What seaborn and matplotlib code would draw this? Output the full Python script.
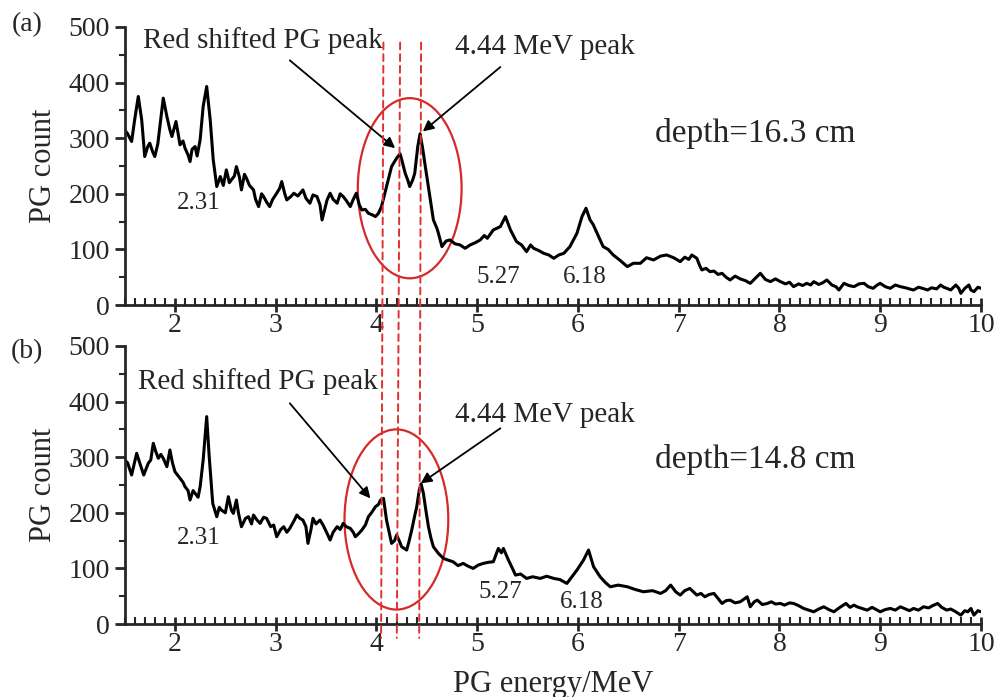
import matplotlib
matplotlib.use("Agg")
import matplotlib.pyplot as plt
import seaborn as sns
from matplotlib.patches import Ellipse, ConnectionPatch
from matplotlib.ticker import MultipleLocator

# spectrum (a), depth = 16.3 cm
energy_a = [1.50, 1.53, 1.57, 1.60, 1.636, 1.67, 1.70, 1.73, 1.75, 1.78, 1.80, 1.83, 1.85, 1.884, 1.92,
            1.95, 1.97, 2.01, 2.03, 2.05, 2.08, 2.10, 2.13, 2.15, 2.17, 2.20, 2.22, 2.25, 2.28, 2.315,
            2.35, 2.38, 2.415, 2.45, 2.48, 2.51, 2.54, 2.56, 2.59, 2.61, 2.64, 2.66, 2.69, 2.71, 2.74,
            2.78, 2.80, 2.83, 2.86, 2.88, 2.91, 2.94, 2.97, 3.01, 3.04, 3.06, 3.09, 3.11, 3.15, 3.18,
            3.22, 3.27, 3.30, 3.34, 3.37, 3.41, 3.44, 3.46, 3.49, 3.51, 3.54, 3.57, 3.61, 3.64, 3.67,
            3.70, 3.74, 3.77, 3.80, 3.83, 3.855, 3.89, 3.92, 3.96, 3.99, 4.02, 4.05, 4.10, 4.15, 4.20,
            4.235, 4.26, 4.285, 4.31, 4.33, 4.36, 4.38, 4.41, 4.433, 4.46, 4.48, 4.53, 4.565, 4.60, 4.615,
            4.65, 4.69, 4.73, 4.78, 4.83, 4.88, 4.93, 4.98, 5.03, 5.07, 5.10, 5.16, 5.23, 5.28, 5.33,
            5.39, 5.44, 5.49, 5.53, 5.56, 5.61, 5.66, 5.71, 5.76, 5.81, 5.86, 5.92, 5.99, 6.04, 6.08,
            6.12, 6.15, 6.19, 6.25, 6.30, 6.35, 6.42, 6.49, 6.55, 6.62, 6.68, 6.75, 6.82, 6.88, 6.95,
            7.015, 7.06, 7.10, 7.13, 7.18, 7.21, 7.23, 7.27, 7.31, 7.35, 7.39, 7.43, 7.47, 7.51, 7.56,
            7.61, 7.66, 7.71, 7.76, 7.81, 7.86, 7.91, 7.96, 8.01, 8.06, 8.10, 8.14, 8.19, 8.23, 8.27,
            8.31, 8.34, 8.39, 8.43, 8.47, 8.52, 8.56, 8.59, 8.64, 8.69, 8.74, 8.79, 8.84, 8.88, 8.93,
            8.97, 9.00, 9.05, 9.10, 9.15, 9.20, 9.25, 9.29, 9.33, 9.38, 9.42, 9.47, 9.51, 9.56, 9.60,
            9.63, 9.66, 9.70, 9.75, 9.78, 9.80, 9.84, 9.88, 9.90, 9.93, 9.97, 10.00]
count_a = [315, 308, 294, 333, 375, 333, 267, 285, 291, 275, 267, 290, 321, 372, 339,
           315, 303, 330, 310, 288, 295, 282, 270, 258, 280, 285, 268, 297, 357, 393,
           333, 261, 213, 231, 215, 243, 220, 225, 232, 249, 230, 207, 235, 228, 215,
           207, 190, 177, 200, 195, 185, 177, 190, 201, 210, 222, 200, 189, 195, 201,
           196, 207, 192, 183, 198, 195, 180, 153, 175, 189, 201, 190, 183, 200, 195,
           188, 177, 190, 201, 180, 171, 172, 165, 162, 159, 165, 177, 213, 249, 264,
           272, 255, 237, 225, 213, 225, 237, 285, 308, 280, 255, 195, 153, 138, 129,
           105, 115, 117, 110, 108, 102, 108, 112, 117, 125, 120, 135, 141, 159, 135,
           114, 108, 96, 108, 102, 98, 93, 90, 84, 90, 93, 105, 129, 159, 174,
           153, 145, 129, 105, 100, 90, 80, 69, 75, 75, 85, 81, 88, 90, 85,
           78, 86, 82, 90, 84, 70, 63, 66, 60, 61, 55, 57, 50, 45, 52,
           47, 44, 39, 48, 57, 46, 42, 47, 42, 38, 41, 33, 38, 35, 39,
           36, 42, 37, 40, 45, 36, 33, 27, 39, 35, 33, 38, 39, 33, 30,
           36, 39, 33, 30, 36, 33, 31, 29, 27, 32, 30, 27, 31, 29, 36,
           32, 30, 27, 36, 30, 21, 30, 36, 27, 24, 32, 30]

# spectrum (b), depth = 14.8 cm
energy_b = [1.50, 1.53, 1.57, 1.62, 1.65, 1.69, 1.735, 1.76, 1.785, 1.81, 1.835, 1.86, 1.884, 1.92, 1.95,
            1.975, 2.00, 2.05, 2.08, 2.10, 2.13, 2.15, 2.18, 2.20, 2.23, 2.25, 2.28, 2.315, 2.34, 2.375,
            2.415, 2.44, 2.46, 2.50, 2.53, 2.56, 2.58, 2.61, 2.63, 2.66, 2.70, 2.73, 2.76, 2.78, 2.81,
            2.845, 2.88, 2.91, 2.95, 2.98, 3.01, 3.05, 3.08, 3.11, 3.14, 3.18, 3.21, 3.24, 3.27, 3.30,
            3.32, 3.35, 3.37, 3.40, 3.44, 3.47, 3.51, 3.54, 3.57, 3.61, 3.64, 3.67, 3.70, 3.74, 3.77,
            3.79, 3.82, 3.855, 3.89, 3.92, 3.95, 3.99, 4.02, 4.04, 4.07, 4.10, 4.15, 4.18, 4.20, 4.23,
            4.25, 4.30, 4.325, 4.35, 4.38, 4.40, 4.425, 4.443, 4.466, 4.49, 4.516, 4.54, 4.565, 4.615, 4.665,
            4.71, 4.76, 4.81, 4.86, 4.91, 4.96, 5.01, 5.06, 5.11, 5.16, 5.21, 5.24, 5.26, 5.31, 5.35,
            5.38, 5.43, 5.49, 5.55, 5.625, 5.69, 5.76, 5.82, 5.89, 5.94, 5.99, 6.055, 6.105, 6.155, 6.22,
            6.27, 6.32, 6.40, 6.49, 6.57, 6.65, 6.74, 6.82, 6.87, 6.92, 6.97,
            7.015, 7.06, 7.11, 7.15, 7.18, 7.22, 7.26, 7.30, 7.35, 7.39, 7.43, 7.47, 7.51, 7.56, 7.61,
            7.65, 7.68, 7.71, 7.75, 7.78, 7.83, 7.88, 7.92, 7.96, 8.01, 8.05, 8.10, 8.14, 8.19, 8.24,
            8.29, 8.34, 8.39, 8.44, 8.49, 8.54, 8.60, 8.66, 8.70, 8.74, 8.77, 8.82, 8.87, 8.92, 8.96,
            9.00, 9.05, 9.10, 9.15, 9.20, 9.25, 9.29, 9.33, 9.38, 9.43, 9.48, 9.52, 9.57, 9.61, 9.66,
            9.70, 9.75, 9.80, 9.84, 9.87, 9.90, 9.93, 9.97, 10.00]
count_b = [295, 290, 268, 307, 290, 268, 289, 295, 325, 310, 298, 305, 298, 283, 313,
           290, 274, 262, 255, 247, 240, 223, 240, 235, 228, 247, 295, 373, 301, 217,
           193, 210, 205, 200, 229, 205, 199, 223, 200, 175, 190, 193, 180, 196, 188,
           181, 192, 190, 175, 178, 157, 170, 175, 165, 172, 185, 196, 190, 187, 175,
           145, 170, 190, 180, 187, 178, 163, 151, 165, 175, 170, 181, 175, 172, 165,
           157, 162, 169, 178, 193, 200, 211, 215, 223, 226, 187, 145, 150, 160, 148,
           139, 133, 150, 169, 195, 211, 241, 252, 235, 205, 175, 155, 139, 127, 118,
           115, 112, 105, 109, 104, 100, 106, 109, 111, 112, 136, 128, 136, 115, 100,
           88, 90, 82, 85, 82, 86, 82, 80, 73, 85, 97, 115, 133, 103, 85,
           75, 67, 70, 67, 62, 58, 60, 55, 60, 70, 58,
           52, 60, 64, 57, 52, 55, 49, 53, 55, 46, 37, 42, 43, 38, 40,
           45, 49, 31, 40, 43, 35, 37, 40, 36, 37, 34, 38, 37, 33, 28,
           25, 22, 27, 31, 26, 22, 30, 37, 30, 34, 31, 28, 25, 30, 26,
           22, 26, 28, 25, 31, 27, 24, 28, 25, 31, 29, 33, 37, 30, 25,
           27, 22, 16, 24, 22, 28, 16, 24, 22]

assert len(energy_a) == len(count_a) and len(energy_b) == len(count_b)

# red dashed guide lines (energy at top of panel a, energy at bottom of panel b)
guide_top = [4.069, 4.235, 4.443]
guide_bottom = [4.046, 4.202, 4.424]

sns.set_style("ticks")
plt.rcParams["font.family"] = ["Liberation Serif", "DejaVu Serif"]
plt.rcParams["axes.linewidth"] = 2

fig = plt.figure(figsize=(9.95, 6.97), dpi=100)
ax_a = fig.add_axes([0.1252, 0.5624, 0.8607, 0.3989])
ax_b = fig.add_axes([0.1252, 0.1047, 0.8607, 0.3989])

panels = [
    (ax_a, energy_a, count_a, "depth=16.3 cm", 309, (4.33, 210),
     [(2.24, 183), (5.21, 50), (6.07, 50)], (1.68, 476), (3.14, 440), (4.185, 282),
     (4.78, 464), (5.23, 428), (4.46, 312)),
    (ax_b, energy_b, count_b, "depth=14.8 cm", 295, (4.198, 188),
     [(2.24, 155), (5.23, 57), (6.04, 40)], (1.63, 436), (3.14, 397), (3.94, 226),
     (4.78, 376), (5.23, 352), (4.44, 253)),
]

for (ax, en, ct, depth, depth_y, ell_c, peak_pos, red_txt, red_from, red_to,
     mev_txt, mev_from, mev_to) in panels:
    sns.lineplot(x=en, y=ct, ax=ax, color="black", lw=2.2)
    ax.set_xlim(1.5, 10)
    ax.set_ylim(0, 500)
    ax.xaxis.set_major_locator(MultipleLocator(1))
    ax.xaxis.set_minor_locator(MultipleLocator(0.1))
    ax.yaxis.set_major_locator(MultipleLocator(100))
    ax.yaxis.set_minor_locator(MultipleLocator(50))
    ax.tick_params(axis="x", which="major", direction="inout", length=10, width=2, labelsize=20, pad=1)
    ax.tick_params(axis="x", which="minor", direction="in", length=5, width=1.5)
    ax.tick_params(axis="y", which="major", direction="out", length=7, width=2, labelsize=20)
    ax.tick_params(axis="y", which="minor", direction="out", length=4, width=1.5)
    sns.despine(ax=ax)
    ax.set_ylabel("PG count", fontsize=22)
    ax.yaxis.set_label_coords(-0.078, 0.5)

    ax.add_patch(Ellipse(ell_c, 1.03, 324, fill=False, edgecolor="#d42a2a", lw=1.6))
    for (px, py), lab in zip(peak_pos, ["2.31", "5.27", "6.18"]):
        ax.text(px, py, lab, fontsize=18, ha="center", va="center")
    ax.text(7.76, depth_y, depth, fontsize=24, ha="center", va="center")
    ax.text(red_txt[0], red_txt[1], "Red shifted PG peak", fontsize=21, ha="left", va="center")
    ax.text(mev_txt[0], mev_txt[1], "4.44 MeV peak", fontsize=21, ha="left", va="center")
    for start, end in [(red_from, red_to), (mev_from, mev_to)]:
        ax.annotate("", xy=end, xytext=start,
                    arrowprops=dict(arrowstyle="-|>", color="black", lw=1.3,
                                    mutation_scale=16, shrinkA=0, shrinkB=0))

ax_b.set_xlabel("PG energy/MeV", fontsize=22)
ax_b.xaxis.set_label_coords(0.5, -0.165)

for xt, xb in zip(guide_top, guide_bottom):
    con = ConnectionPatch(xyA=(xt, 472), coordsA=ax_a.transData,
                          xyB=(xb, -25), coordsB=ax_b.transData,
                          color="#e03030", lw=1.4, linestyle=(0, (3.5, 2.5)))
    fig.add_artist(con)

fig.text(27 / 995, 1 - 25 / 697, "(a)", fontsize=20, ha="center", va="center")
fig.text(27 / 995, 1 - 352 / 697, "(b)", fontsize=20, ha="center", va="center")

fig.savefig("out.png", dpi=100)
